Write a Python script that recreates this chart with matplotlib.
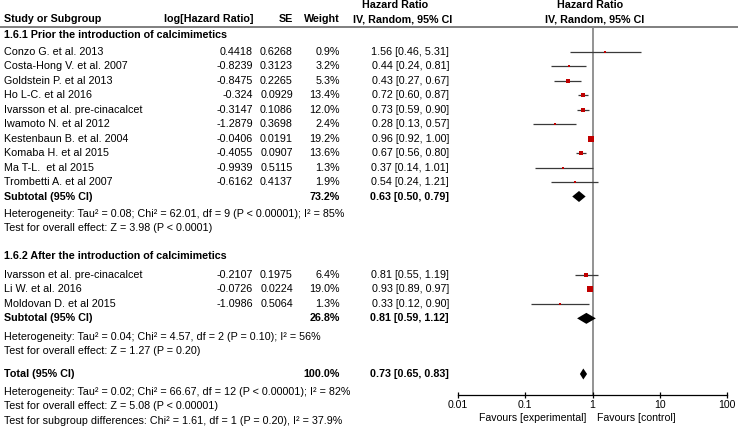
import matplotlib
matplotlib.use('Agg')
import matplotlib.pyplot as plt
import numpy as np

plt.rcParams['font.family'] = ['Liberation Sans', 'DejaVu Sans']

# ---------------- data ----------------
g1_title = "1.6.1 Prior the introduction of calcimimetics"
g1_names = ["Conzo G. et al. 2013", "Costa-Hong V. et al. 2007", "Goldstein P. et al 2013",
            "Ho L-C. et al 2016", "Ivarsson et al. pre-cinacalcet", "Iwamoto N. et al 2012",
            "Kestenbaun B. et al. 2004", "Komaba H. et al 2015", "Ma T-L.  et al 2015",
            "Trombetti A. et al 2007"]
g1_loghr = ["0.4418", "-0.8239", "-0.8475", "-0.324", "-0.3147", "-1.2879", "-0.0406", "-0.4055", "-0.9939", "-0.6162"]
g1_se = ["0.6268", "0.3123", "0.2265", "0.0929", "0.1086", "0.3698", "0.0191", "0.0907", "0.5115", "0.4137"]
g1_weight = [0.9, 3.2, 5.3, 13.4, 12.0, 2.4, 19.2, 13.6, 1.3, 1.9]
g1_hr = [1.56, 0.44, 0.43, 0.72, 0.73, 0.28, 0.96, 0.67, 0.37, 0.54]
g1_lo = [0.46, 0.24, 0.27, 0.60, 0.59, 0.13, 0.92, 0.56, 0.14, 0.24]
g1_hi = [5.31, 0.81, 0.67, 0.87, 0.90, 0.57, 1.00, 0.80, 1.01, 1.21]
g1_sub = [0.63, 0.50, 0.79]
g1_sub_weight = 73.2
g1_het = "Heterogeneity: Tau² = 0.08; Chi² = 62.01, df = 9 (P < 0.00001); I² = 85%"
g1_test = "Test for overall effect: Z = 3.98 (P < 0.0001)"

g2_title = "1.6.2 After the introduction of calcimimetics"
g2_names = ["Ivarsson et al. pre-cinacalcet", "Li W. et al. 2016", "Moldovan D. et al 2015"]
g2_loghr = ["-0.2107", "-0.0726", "-1.0986"]
g2_se = ["0.1975", "0.0224", "0.5064"]
g2_weight = [6.4, 19.0, 1.3]
g2_hr = [0.81, 0.93, 0.33]
g2_lo = [0.55, 0.89, 0.12]
g2_hi = [1.19, 0.97, 0.90]
g2_sub = [0.81, 0.59, 1.12]
g2_sub_weight = 26.8
g2_het = "Heterogeneity: Tau² = 0.04; Chi² = 4.57, df = 2 (P = 0.10); I² = 56%"
g2_test = "Test for overall effect: Z = 1.27 (P = 0.20)"

total = [0.73, 0.65, 0.83]
total_weight = 100.0
total_het = "Heterogeneity: Tau² = 0.02; Chi² = 66.67, df = 12 (P < 0.00001); I² = 82%"
total_test = "Test for overall effect: Z = 5.08 (P < 0.00001)"
subgroup_test = "Test for subgroup differences: Chi² = 1.61, df = 1 (P = 0.20), I² = 37.9%"

x_ticks = [0.01, 0.1, 1, 10, 100]
x_ticklabels = ["0.01", "0.1", "1", "10", "100"]

# ---------------- layout ----------------
W, H = 738, 434
fig = plt.figure(figsize=(W / 100, H / 100), dpi=100)
bg = fig.add_axes([0, 0, 1, 1])
bg.set_xlim(0, W)
bg.set_ylim(H, 0)
bg.axis('off')

FS = 7.75
X_NAME, X_LOG, X_SE, X_W, X_CI = 4, 253, 293, 340, 449
STEP = 14.45
SQ_COLOR = '#c00000'
LINE_COLOR = '#3a3a3a'

ax_top, ax_bot = 27, 395
ax_l, ax_r = 458, 727
ax = fig.add_axes([ax_l / W, (H - ax_bot) / H, (ax_r - ax_l) / W, (ax_bot - ax_top) / H])
ax.set_xscale('log')
ax.set_xlim(x_ticks[0], x_ticks[-1])
ax.set_ylim(ax_bot, ax_top)
ax.patch.set_alpha(0)
for s in ['top', 'left', 'right']:
    ax.spines[s].set_visible(False)
ax.spines['bottom'].set_linewidth(0.9)
ax.set_yticks([])
ax.set_xticks(x_ticks)
ax.set_xticklabels(x_ticklabels, fontsize=7.6)
ax.minorticks_off()
ax.tick_params(axis='x', direction='inout', length=5, width=0.9, pad=1.0)
ax.axvline(1, color='#8a8a8a', lw=1.3, zorder=1)


def t(x, y, s, ha='left', bold=False, fs=FS):
    bg.text(x, y, s, ha=ha, va='center', fontsize=fs,
            fontweight='bold' if bold else 'normal')


# header
t(X_NAME, 19, "Study or Subgroup", bold=True)
t(X_LOG, 19, "log[Hazard Ratio]", ha='right', bold=True)
t(X_SE, 19, "SE", ha='right', bold=True)
t(X_W, 19, "Weight", ha='right', bold=True)
t(395, 5, "Hazard Ratio", ha='center', bold=True)
t(403, 19, "IV, Random, 95% CI", ha='center', bold=True)
t(590, 5, "Hazard Ratio", ha='center', bold=True)
t(595, 19, "IV, Random, 95% CI", ha='center', bold=True)
bg.plot([0, W], [ax_top, ax_top], color='#6a6a6a', lw=1.2)


def fmt_ci(e, lo, hi):
    return f"{e:.2f} [{lo:.2f}, {hi:.2f}]"


def diamond(y, e, lo, hi, half=5.5):
    ax.fill([lo, e, hi, e], [y, y - half, y, y + half], color='black', zorder=4, lw=0)


def group(title, y_title, y_first, names, loghr, se, w, hr, lo, hi, sub, sub_w, het, test, y_het):
    t(X_NAME, y_title, title, bold=True)
    ys = [y_first + i * STEP for i in range(len(names))]
    for i, y in enumerate(ys):
        t(X_NAME, y, names[i])
        t(X_LOG, y, loghr[i], ha='right')
        t(X_SE, y, se[i], ha='right')
        t(X_W, y, f"{w[i]:.1f}%", ha='right')
        t(X_CI, y, fmt_ci(hr[i], lo[i], hi[i]), ha='right')
        ax.plot([lo[i], hi[i]], [y, y], color=LINE_COLOR, lw=0.9, zorder=2, solid_capstyle='butt')
        ax.plot([hr[i]], [y], marker='s', linestyle='none', color=SQ_COLOR,
                markersize=0.9 + 0.62 * np.sqrt(w[i]), markeredgewidth=0, zorder=3)
    ysub = y_first + len(names) * STEP
    t(X_NAME, ysub, "Subtotal (95% CI)", bold=True)
    t(X_W, ysub, f"{sub_w:.1f}%", ha='right', bold=True)
    t(X_CI, ysub, fmt_ci(*sub), ha='right', bold=True)
    diamond(ysub, *sub)
    t(X_NAME, y_het, het)
    t(X_NAME, y_het + 14, test)


group(g1_title, 35, 52, g1_names, g1_loghr, g1_se, g1_weight, g1_hr, g1_lo, g1_hi,
      g1_sub, g1_sub_weight, g1_het, g1_test, 214)
group(g2_title, 256, 275, g2_names, g2_loghr, g2_se, g2_weight, g2_hr, g2_lo, g2_hi,
      g2_sub, g2_sub_weight, g2_het, g2_test, 337)

y_tot = 374
t(X_NAME, y_tot, "Total (95% CI)", bold=True)
t(X_W, y_tot, f"{total_weight:.1f}%", ha='right', bold=True)
t(X_CI, y_tot, fmt_ci(*total), ha='right', bold=True)
diamond(y_tot, *total)
t(X_NAME, 392, total_het)
t(X_NAME, 406, total_test)
t(X_NAME, 421, subgroup_test)

t(586, 418, "Favours [experimental]", ha='right', fs=7.6)
t(597, 418, "Favours [control]", fs=7.6)

fig.savefig('out.png', dpi=100)
